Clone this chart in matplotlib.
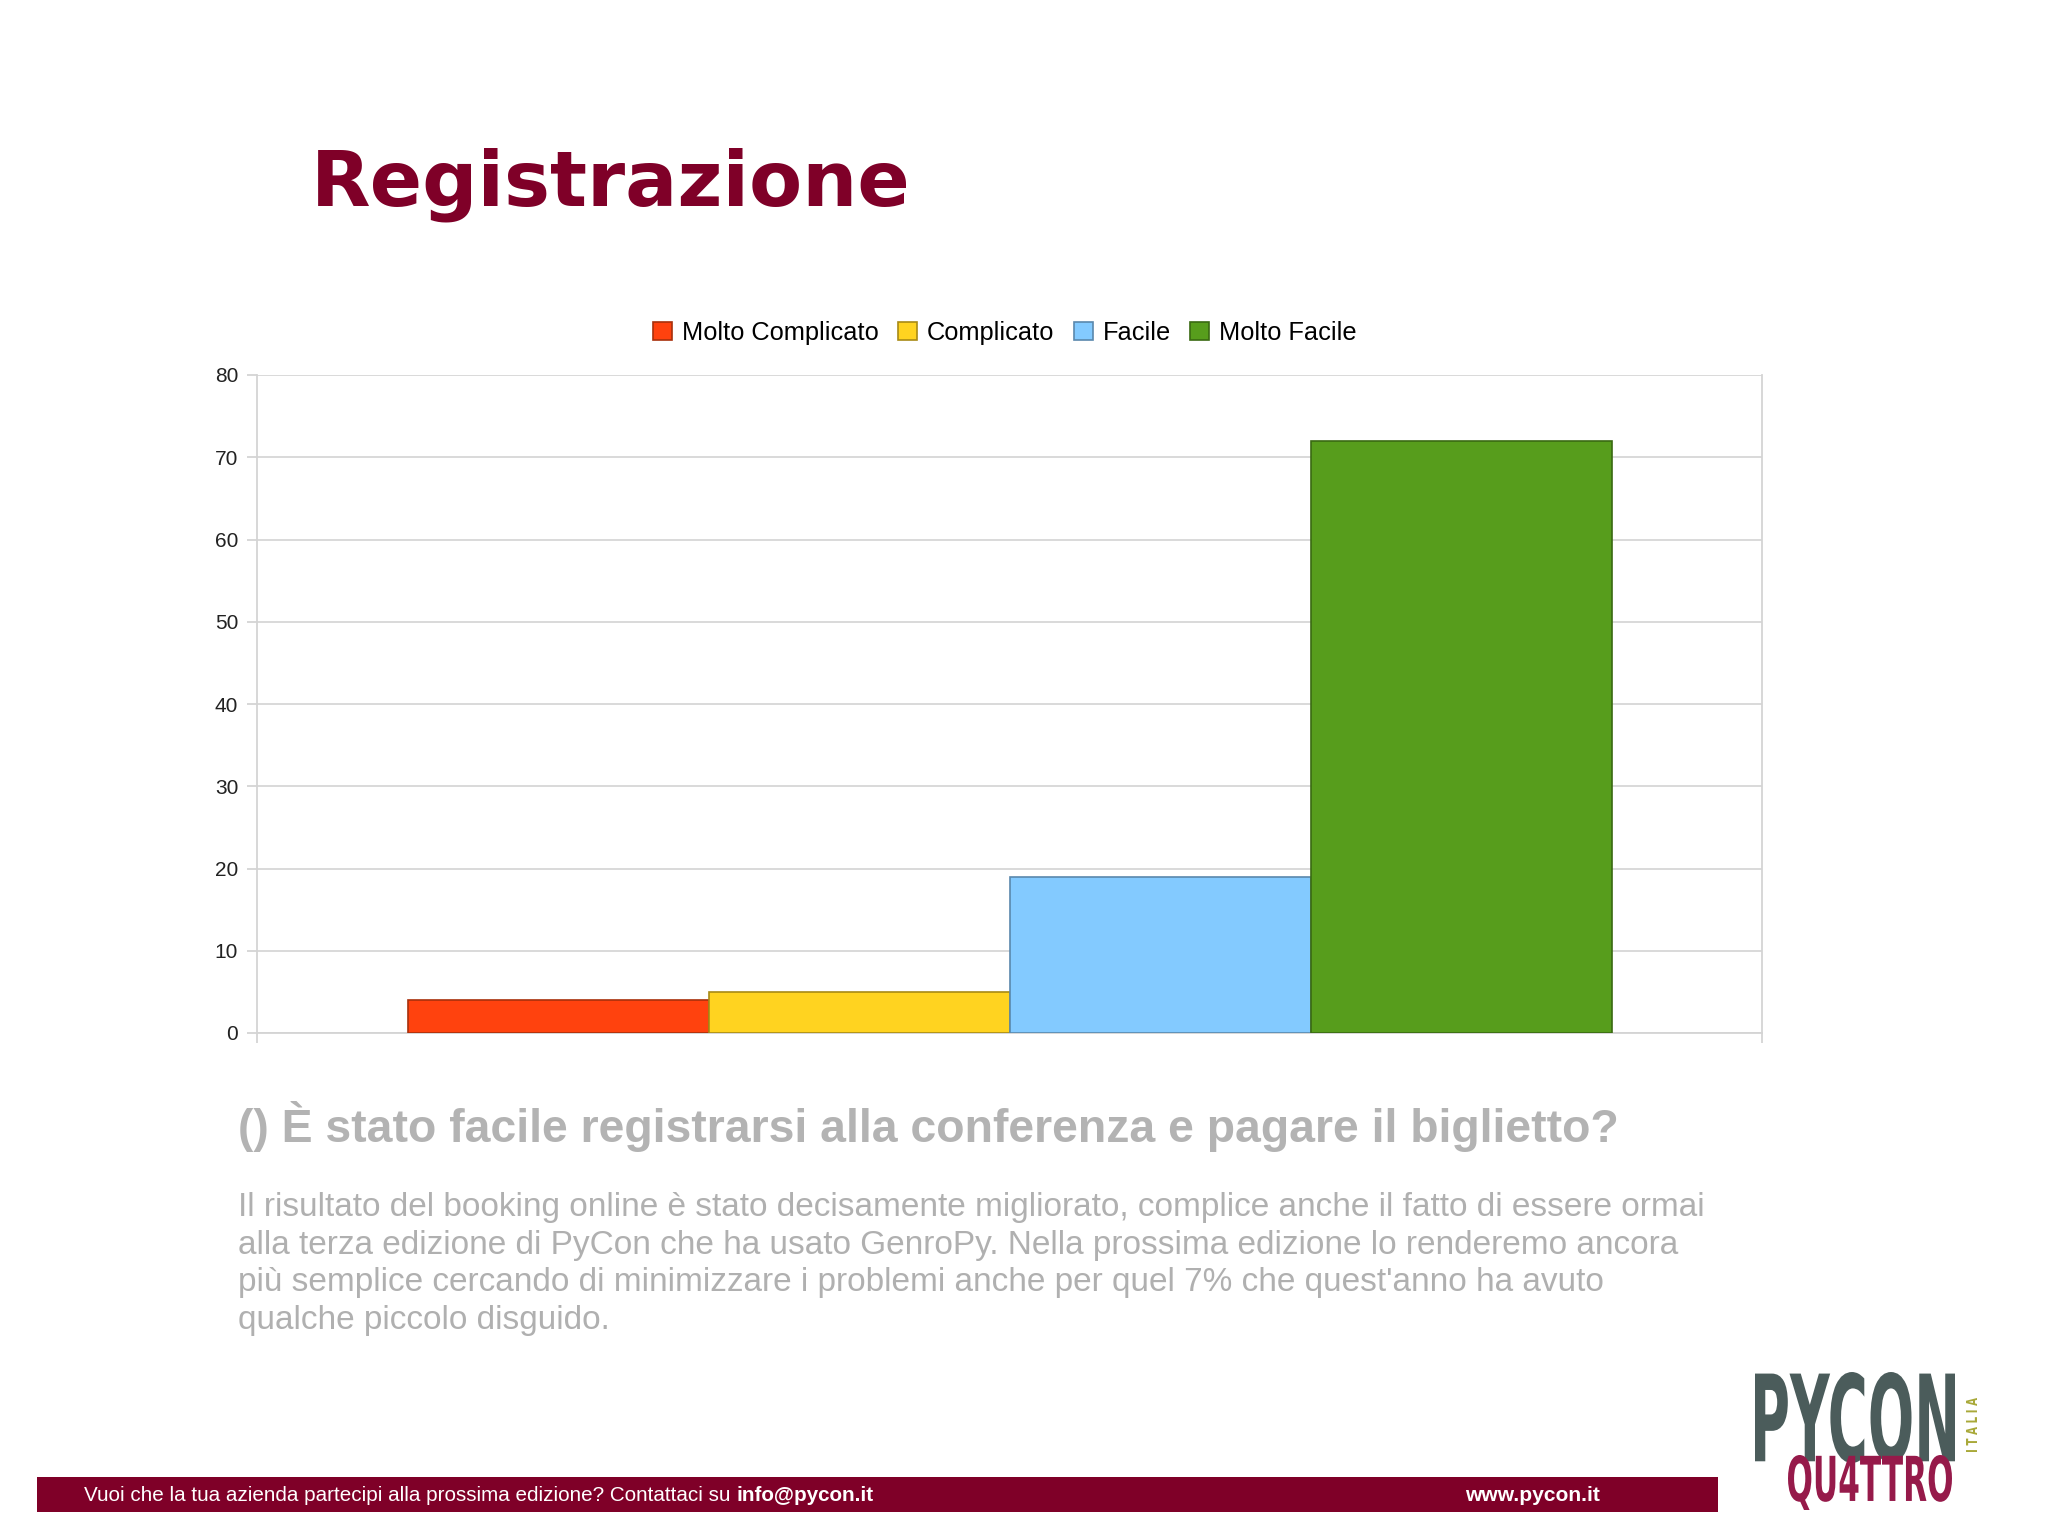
import matplotlib
matplotlib.use("Agg")
import matplotlib.pyplot as plt
from matplotlib.patches import Rectangle, PathPatch
from matplotlib.textpath import TextPath
from matplotlib.font_manager import FontProperties
from matplotlib.transforms import Affine2D, IdentityTransform

# ---- data ----
categories = ["Molto Complicato", "Complicato", "Facile", "Molto Facile"]
values = [4, 5, 19, 72]
colors = ["#ff420e", "#ffd320", "#83caff", "#579d1c"]
edge_colors = ["#a8300c", "#a88a15", "#5a88ad", "#3a6a12"]
yticks = [0, 10, 20, 30, 40, 50, 60, 70, 80]

title = "Registrazione"
question = "() È stato facile registrarsi alla conferenza e pagare il biglietto?"
body_lines = [
    "Il risultato del booking online è stato decisamente migliorato, complice anche il fatto di essere ormai",
    "alla terza edizione di PyCon che ha usato GenroPy. Nella prossima edizione lo renderemo ancora",
    "più semplice cercando di minimizzare i problemi anche per quel 7% che quest'anno ha avuto",
    "qualche piccolo disguido.",
]
footer_left = "Vuoi che la tua azienda partecipi alla prossima edizione? Contattaci su "
footer_mail = "info@pycon.it"
footer_web = "www.pycon.it"

W, H = 2048, 1535
fig = plt.figure(figsize=(W / 100, H / 100), dpi=100)
fig.patch.set_facecolor("white")

def fx(px):
    return px / W

def fy(py):
    return 1 - py / H

SANS = "Liberation Sans"
MAROON = "#7f0028"

# title
fig.text(fx(311), fy(205), title, fontsize=55.7, fontweight="bold",
         family="DejaVu Sans", color=MAROON, va="baseline", ha="left")

# axes
ax = fig.add_axes([fx(257), fy(1033), fx(1762) - fx(257), (1033 - 375) / H])
ax.set_facecolor("white")
n = len(values)
width = 0.8 / n
for i, (v, c, ec, lab) in enumerate(zip(values, colors, edge_colors, categories)):
    ax.bar(-0.4 + width * (i + 0.5), v, width=width, color=c, edgecolor=ec,
           linewidth=1.2, label=lab, zorder=3)
ax.set_xlim(-0.5, 0.5)
ax.set_ylim(0, 80)
ax.set_yticks(yticks)
ax.set_yticklabels([str(t) for t in yticks], fontsize=15, family=SANS, color="#222222")
ax.set_xticks([-0.5, 0.5])
ax.set_xticklabels(["", ""])
ax.tick_params(axis="both", length=7, width=1.3, color="#d4d4d4", direction="out", pad=6.5)
ax.grid(axis="y", color="#d9d9d9", linewidth=1.4, zorder=0)
for s in ["left", "right", "bottom"]:
    ax.spines[s].set_color("#d4d4d4")
    ax.spines[s].set_linewidth(1.3)
ax.spines["top"].set_visible(False)

# legend
leg = fig.legend(loc="center", bbox_to_anchor=(fx(1005), fy(333)), ncol=4,
                 frameon=False, prop={"family": SANS, "size": 18.3},
                 handlelength=0.75, handleheight=0.75, handletextpad=0.4,
                 columnspacing=0.75, borderaxespad=0)

# question and body text
GRAY = "#b3b3b3"
fig.text(fx(238), fy(1142), question, fontsize=33.4, fontweight="bold",
         family=SANS, color=GRAY, va="baseline", ha="left")
body_baselines = [1216, 1254, 1291, 1329]
for line, yb in zip(body_lines, body_baselines):
    fig.text(fx(238), fy(yb), line, fontsize=24, family=SANS, color="#b0b0b0",
             va="baseline", ha="left")

# footer bar
fig.patches.append(Rectangle((fx(37), fy(1512)), fx(1718) - fx(37), (1512 - 1477) / H,
                             transform=fig.transFigure, facecolor=MAROON,
                             edgecolor="none", zorder=1))
t1 = fig.text(fx(84), fy(1501), footer_left, fontsize=14.9, family=SANS, color="white",
              va="baseline", ha="left", zorder=2)
fig.canvas.draw()
bb = t1.get_window_extent()
fig.text(bb.x1 / W, fy(1501), footer_mail, fontsize=14.9, fontweight="bold",
         family=SANS, color="white", va="baseline", ha="left", zorder=2)
fig.text(fx(1465), fy(1501), footer_web, fontsize=15.1, fontweight="bold",
         family=SANS, color="white", va="baseline", ha="left", zorder=2)

# logo (text paths stretched into boxes)
def boxed_path(s, x0, y0, x1, y1, rotate=False, weight="bold"):
    fp = FontProperties(family="DejaVu Sans", weight=weight)
    tp = TextPath((0, 0), s, size=100, prop=fp)
    ext = tp.get_extents()
    tr = Affine2D().translate(-ext.x0, -ext.y0)
    if rotate:
        tr = tr.rotate_deg(90).translate(ext.height, 0)
        w, h = ext.height, ext.width
    else:
        w, h = ext.width, ext.height
    bw, bh = x1 - x0, y1 - y0
    tr = tr.scale(bw / w, bh / h).translate(x0, H - y1)
    return tr.transform_path(tp)

for s, box, col, rot, wt in [
    ("PYCON", (1755, 1372, 1955, 1463), "#4b5c5b", False, "bold"),
    ("QU4TTRO", (1788, 1455, 1952, 1510), "#961a4a", False, "bold"),
    ("I T A L I A", (1966, 1398, 1977, 1452), "#a9a93a", True, "bold"),
]:
    path = boxed_path(s, *box, rotate=rot, weight=wt)
    p = PathPatch(path, facecolor=col, edgecolor="none", transform=IdentityTransform(), zorder=3)
    fig.patches.append(p)

fig.savefig("out.png", dpi=100, facecolor="white")
